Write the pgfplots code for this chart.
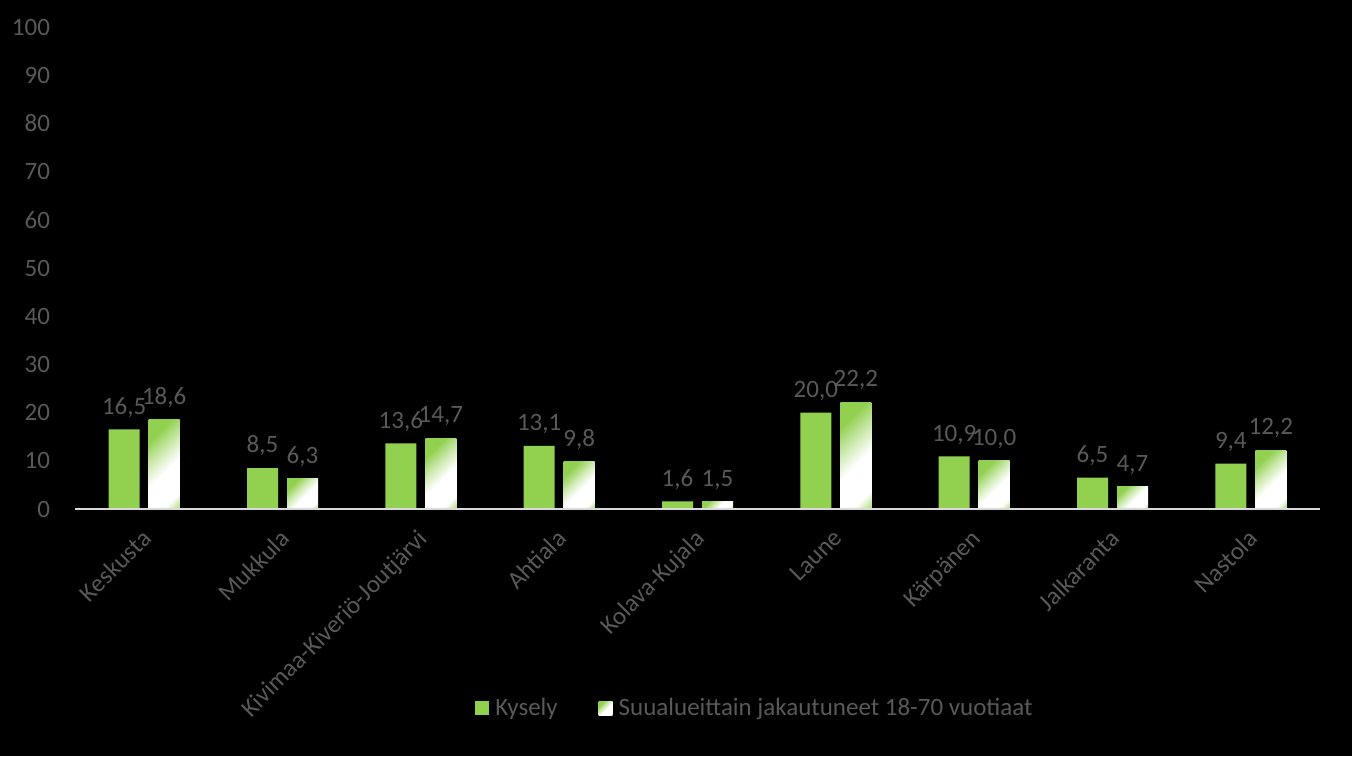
\documentclass[border=0pt]{standalone}
\usepackage{fontspec}
\setmainfont{Carlito}
\usepackage{pgfplots}
\pgfplotsset{compat=1.18}
\definecolor{barg}{HTML}{92D050}
\definecolor{txt}{HTML}{595959}
\definecolor{axl}{HTML}{D9D9D9}
\colorlet{gA}{barg}
\colorlet{gB}{barg!45!white}
\colorlet{gC}{barg!65!white}
\pgfdeclarehorizontalshading{barshade}{100bp}{color(0bp)=(gA); color(28bp)=(gA); color(42bp)=(gB); color(55bp)=(white); color(76bp)=(white); color(84bp)=(gC); color(100bp)=(gC)}
\pgfplotsset{shbar/.style={draw=none, shading=barshade, shading angle=-45, bar shift=10pt}}
\begin{document}
\begin{tikzpicture}
\useasboundingbox (0,0) rectangle (676pt,378pt);
\fill[black] (0,0) rectangle (676pt,378pt);
\begin{axis}[
  at={(37.5pt,123.5pt)}, anchor=south west,
  scale only axis, width=622.5pt, height=241pt,
  xmin=-0.5, xmax=8.5, ymin=0, ymax=100,
  ytick={0,10,...,100},
  xtick={0,...,8},
  xticklabels={Keskusta,Mukkula,Kivimaa-Kiveriö-Joutjärvi,Ahtiala,Kolava-Kujala,Laune,Kärpänen,Jalkaranta,Nastola},
  xticklabel style={rotate=45, anchor=north east, inner sep=2pt, xshift=-6pt, yshift=-3.2pt},
  font=\fontsize{12.5}{15}\selectfont,
  tick label style={text=txt},
  /pgf/number format/assume math mode=true,
  axis line style={draw=none},
  axis x line*=bottom, axis y line*=left,
  major tick length=0pt,
  ytick style={draw=none}, xtick style={draw=none},
  yticklabel style={xshift=-9pt},
  ybar, bar width=15.5pt,
  nodes near coords={\pgfmathprintnumber[fixed,fixed zerofill,precision=1,use comma]{\pgfplotspointmeta}},
  every node near coord/.append style={text=txt, anchor=south, yshift=2.5pt},
  legend style={at={(0.547,-0.413)}, anchor=center, legend columns=2, draw=none, fill=none, text=txt, font=\fontsize{12.5}{15}\selectfont, /tikz/every even column/.append style={column sep=18.5pt}},
  legend image code/.code={\fill[#1] (0pt,-3.5pt) rectangle (7pt,3.5pt); \path (8pt,0pt);},
  clip=false,
]
\addplot[draw=none, fill=barg, bar shift=-10pt] coordinates {(0,16.5) (1,8.5) (2,13.6) (3,13.1) (4,1.6) (5,20.0) (6,10.9) (7,6.5) (8,9.4)};
\addplot[shbar] coordinates {(0,18.6)};
\addplot[shbar, forget plot] coordinates {(1,6.3)};
\addplot[shbar, forget plot] coordinates {(2,14.7)};
\addplot[shbar, forget plot] coordinates {(3,9.8)};
\addplot[shbar, forget plot] coordinates {(4,1.5)};
\addplot[shbar, forget plot] coordinates {(5,22.2)};
\addplot[shbar, forget plot] coordinates {(6,10.0)};
\addplot[shbar, forget plot] coordinates {(7,4.7)};
\addplot[shbar, forget plot] coordinates {(8,12.2)};
\legend{Kysely,Suualueittain jakautuneet 18-70 vuotiaat}
\draw[axl, line width=0.75pt] (axis cs:-0.5,0) -- (axis cs:8.5,0);
\end{axis}
\end{tikzpicture}
\end{document}
